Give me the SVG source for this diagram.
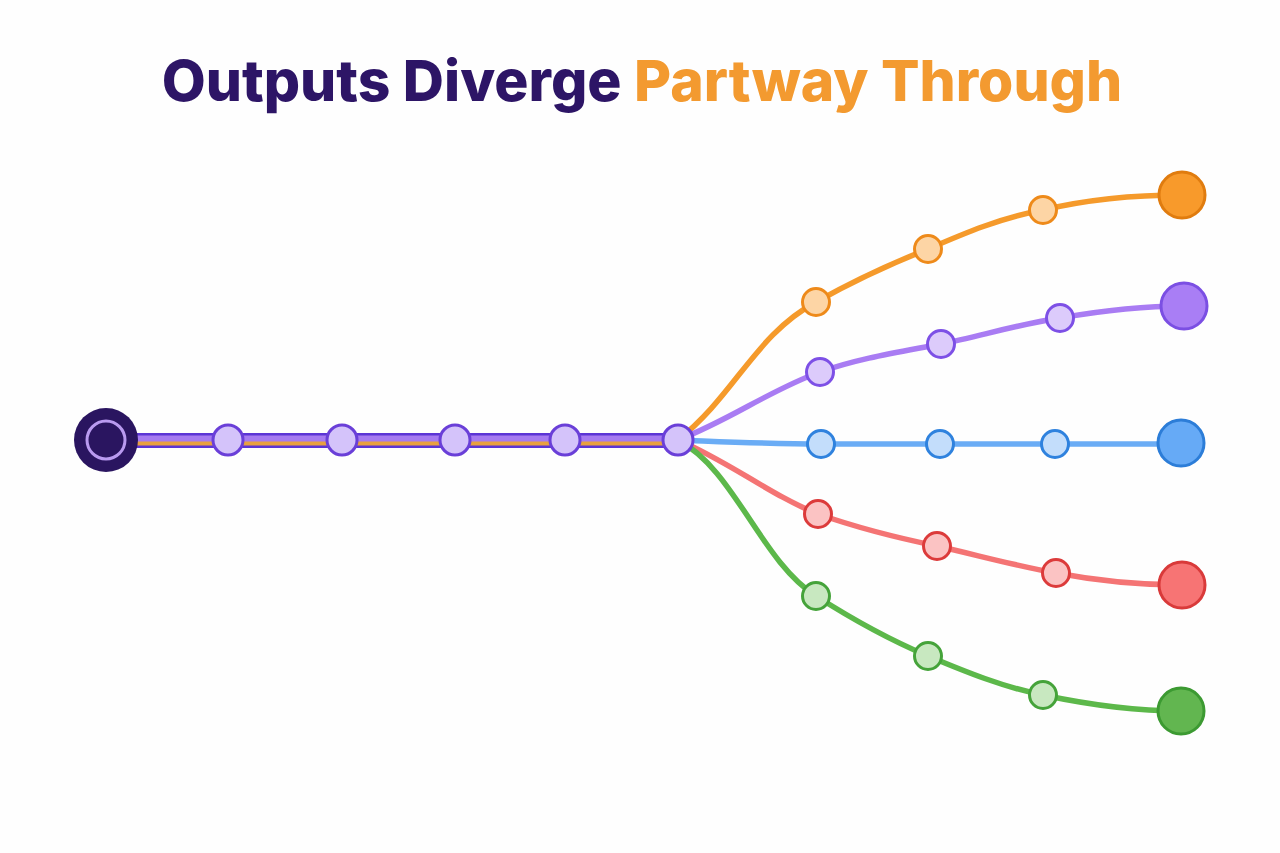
<svg xmlns="http://www.w3.org/2000/svg" width="1280" height="853" viewBox="0 0 1280 853">
<style>
.title{font-family:Inter,"Open Sans","Liberation Sans",sans-serif;font-weight:800;font-size:57px}
.br{fill:none;stroke-width:5.5;stroke-linecap:round}
.sm{stroke-width:3}
.end{stroke-width:3}
.tn{fill:#d4c3fa;stroke:#6a3fd8;stroke-width:3}
</style>
<rect width="1280" height="853" fill="#fefefe"/>
<text class="title" x="642" y="101" text-anchor="middle"><tspan fill="#2d1566">Outputs Diverge </tspan><tspan fill="#f39a30">Partway Through</tspan></text>
<g id="connectors">
<path class="br" stroke="#f59a2b" d="M678,440 C735,395 755,335 816,302 C850,283 885,266 928,249 C965,233 1000,218 1043,210 C1085,200 1130,195 1182,195"/>
<path class="br" stroke="#a97cf3" d="M678,440 C730,420 770,390 820,372 C860,358 900,352 941,344 C980,336 1020,324 1060,318 C1100,311 1140,306 1184,306"/>
<path class="br" stroke="#6aacf5" d="M678,440 C730,442 770,444 821,444 L1181,444"/>
<path class="br" stroke="#f47474" d="M678,440 C730,462 770,495 818,514 C858,528 898,538 937,546 C977,555 1016,566 1056,573 C1098,581 1140,585 1182,585"/>
<path class="br" stroke="#5cb84a" d="M678,440 C735,470 760,560 816,596 C852,619 890,640 928,656 C966,672 1003,687 1043,695 C1090,705 1135,711 1181,711"/>
<g id="trunk">
<rect x="106" y="433" width="572" height="15" fill="#5b35d5"/>
<rect x="106" y="435.5" width="572" height="6.5" fill="#a57af0"/>
<rect x="106" y="441.5" width="572" height="4" fill="#e8a040"/>
</g>
</g>
<g id="start"><circle cx="106" cy="440" r="32" fill="#2a1560"/><circle cx="106" cy="440" r="19" fill="none" stroke="#b99af0" stroke-width="3"/></g>
<g id="t1"><circle class="tn" cx="228" cy="440" r="15"/></g>
<g id="t2"><circle class="tn" cx="342" cy="440" r="15"/></g>
<g id="t3"><circle class="tn" cx="455" cy="440" r="15"/></g>
<g id="t4"><circle class="tn" cx="565" cy="440" r="15"/></g>
<g id="t5"><circle class="tn" cx="678" cy="440" r="15"/></g>
<g id="orange" fill="#fdd5a5" stroke="#ee8a1a">
<circle class="sm" cx="816" cy="302" r="13.5"/><circle class="sm" cx="928" cy="249" r="13.5"/><circle class="sm" cx="1043" cy="210" r="13.5"/>
<circle class="end" cx="1182" cy="195" r="23" fill="#f89a2b" stroke="#e07c0f"/></g>
<g id="purple" fill="#dccbfb" stroke="#7d50e6">
<circle class="sm" cx="820" cy="372" r="13.5"/><circle class="sm" cx="941" cy="344" r="13.5"/><circle class="sm" cx="1060" cy="318" r="13.5"/>
<circle class="end" cx="1184" cy="306" r="23" fill="#a97ef5" stroke="#7b4fe3"/></g>
<g id="blue" fill="#c3ddfb" stroke="#2f82de">
<circle class="sm" cx="821" cy="444" r="13.5"/><circle class="sm" cx="940" cy="444" r="13.5"/><circle class="sm" cx="1055" cy="444" r="13.5"/>
<circle class="end" cx="1181" cy="443" r="23" fill="#66aaf6" stroke="#2c7dd8"/></g>
<g id="red" fill="#fbc3c3" stroke="#dc3b3b">
<circle class="sm" cx="818" cy="514" r="13.5"/><circle class="sm" cx="937" cy="546" r="13.5"/><circle class="sm" cx="1056" cy="573" r="13.5"/>
<circle class="end" cx="1182" cy="585" r="23" fill="#f77474" stroke="#d93a3a"/></g>
<g id="green" fill="#c8e8c0" stroke="#45a33a">
<circle class="sm" cx="816" cy="596" r="13.5"/><circle class="sm" cx="928" cy="656" r="13.5"/><circle class="sm" cx="1043" cy="695" r="13.5"/>
<circle class="end" cx="1181" cy="711" r="23" fill="#62b650" stroke="#3c9a32"/></g>
</svg>
